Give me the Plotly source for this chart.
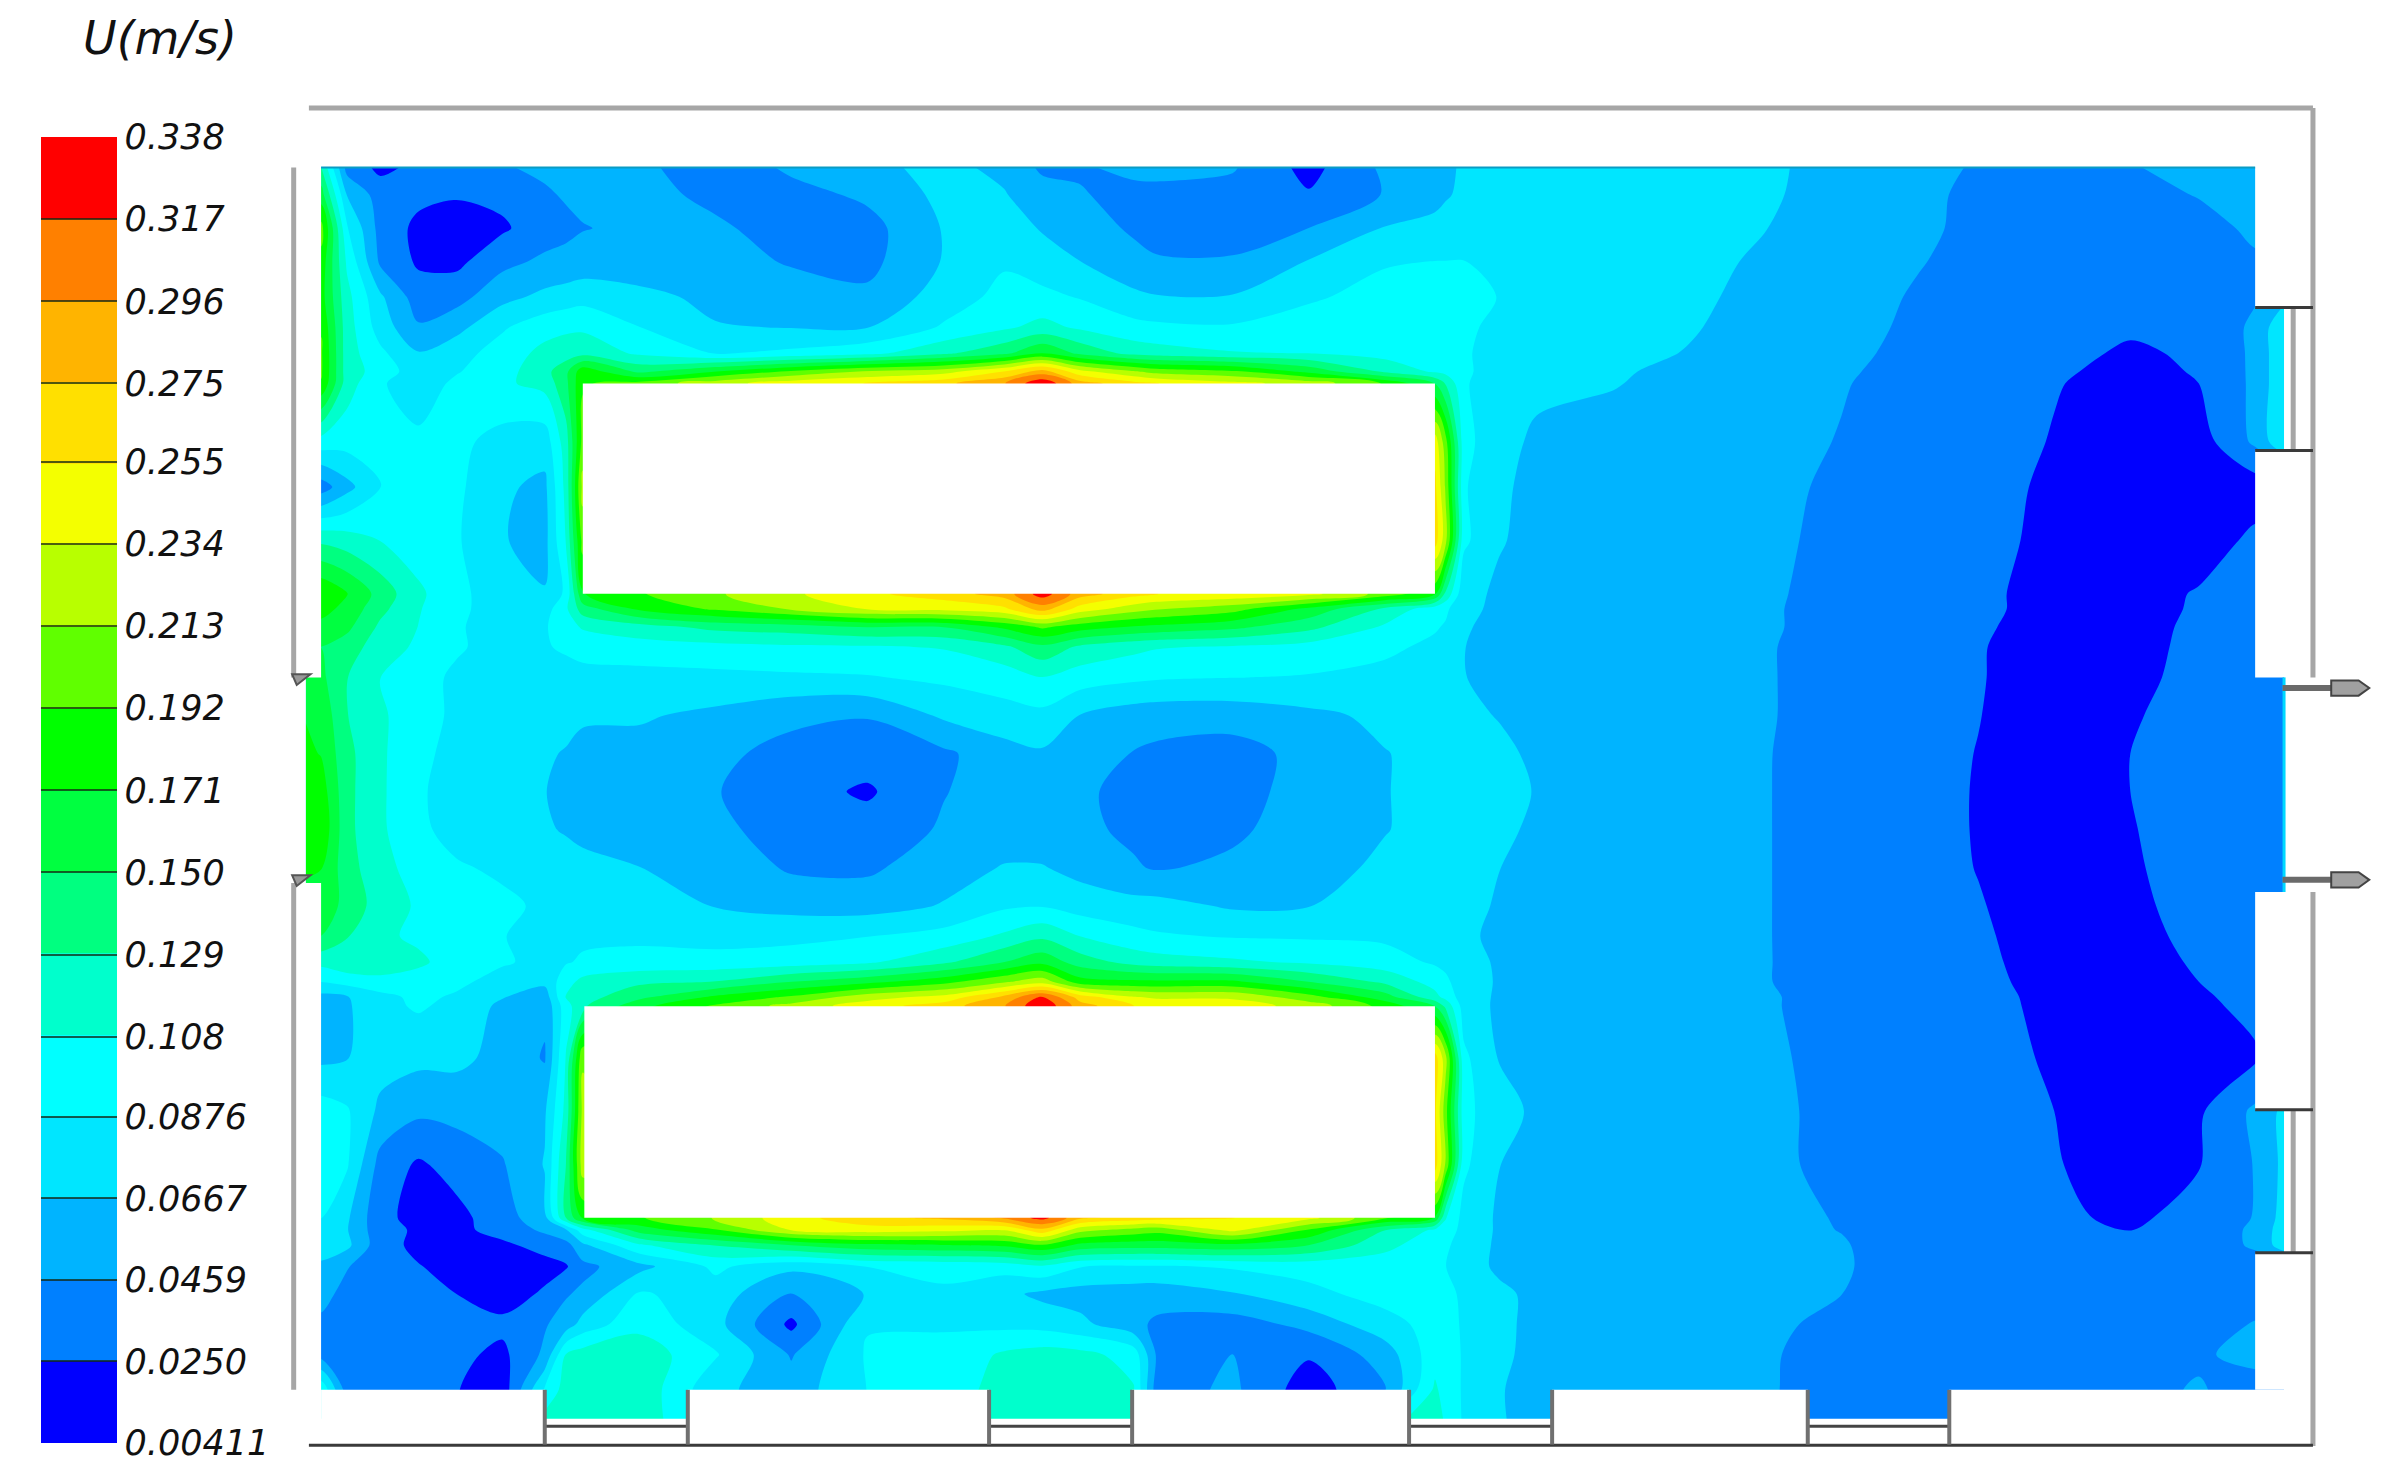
import numpy as np
import plotly.graph_objects as go

# --- colour bar ---
TICK_VALS = [0.00411, 0.0250, 0.0459, 0.0667, 0.0876, 0.108, 0.129, 0.150, 0.171,
             0.192, 0.213, 0.234, 0.255, 0.275, 0.296, 0.317, 0.338]
TICK_TEXT = ["0.00411", "0.0250", "0.0459", "0.0667", "0.0876", "0.108", "0.129", "0.150", "0.171",
             "0.192", "0.213", "0.234", "0.255", "0.275", "0.296", "0.317", "0.338"]
BAND_COLORS = ["#0000ff", "#0080ff", "#00b4ff", "#00e6ff", "#00ffff", "#00ffcc", "#00ff80", "#00ff40",
               "#00ff00", "#60ff00", "#b8ff00", "#f4ff00", "#ffe000", "#ffb400", "#ff8000", "#ff0000"]

# --- velocity field (mm/s), rows top to bottom ---
ROOM_X = [201, 211, 228, 250, 275, 300, 330, 358, 372, 383, 420, 470, 520, 570, 620, 660, 685, 710, 745, 760,
          810, 860, 910, 943, 950, 962, 985, 1010, 1060, 1110, 1160, 1210, 1260, 1300, 1350, 1400, 1445, 1482, 1501]
ROOM_Y = [110, 128, 150, 172, 195, 215, 232, 244, 252, 290, 320, 355, 390, 400, 412, 425, 445, 470, 495, 520, 545,
          570, 595, 615, 632, 645, 655, 661, 695, 730, 765, 800, 808, 818, 832, 850, 870, 890, 913, 935]
H = [200] * 13  # hidden behind the white blocks
U_MM_S = [
    [130,130,38,20,30,38,44,50,52,53,52,30,50,62,72,62,42,44,50,52,48,18,50,56,62,70,74,75,74,72,69,62,52,44,42,45,50,52,52],
    [160,160,66,36,30,27,30,43,48,50,54,40,38,50,72,68,55,47,41,40,38,27,47,60,65,70,76,78,76,73,69,60,50,42,38,38,47,54,54],
    [200,200,90,38,20,14,22,36,41,45,50,50,35,38,68,77,65,52,44,42,37,46,68,73,74,76,80,81,78,73,67,60,49,42,36,34,38,50,50],
    [185,185,105,42,22,20,40,50,52,54,55,54,44,40,68,85,76,67,50,47,48,68,86,88,88,88,84,82,77,72,64,56,47,40,34,32,35,43,43],
    [180,180,115,70,35,38,60,72,76,80,72,62,56,50,76,94,93,86,72,68,68,85,94,96,96,95,87,82,76,70,62,54,44,38,32,28,31,44,60],
    [190,190,118,78,48,60,85,100,105,105,88,68,66,66,90,105,115,105,94,92,90,96,98,96,95,92,82,78,74,68,61,53,42,37,31,27,29,50,85],
    [195,195,118,92,68,80,96,115,118,122,105,86,92,102,125,145,170,145,122,118,110,108,100,98,96,90,80,74,71,66,59,50,41,36,29,23,27,50,85],
    [195,195,118,100,75,86,100,122,145,185,145,170,195,215,225,255,285,240,215,205,195,165,125,105,102,92,76,72,68.5,63,57,48,40,35,27,21,26,50,85],
    [190,190,118,90,76,92,105,115,145,190,200,225,245,255,270,295,335,285,262,255,240,225,190,150,128,90,75,70,67.5,62,56,47,39,34,26,19,25,50,85],
    [100,100,96,92,92,93,80,76,120,200] + H + [245,200,95,72,64,61,57,52,45,38,33,24,15,15,50,85],
    [35,35,60,87,94,92,70,62,115,220] + H + [260,210,90,69,63,59,55,50,43,36,31,22,14,12,14,14],
    [125,125,118,108,98,90,68,60,110,200] + H + [265,220,92,68,62,58,54,49,42,35,30,21,14,13,30,30],
    [190,190,172,142,112,95,72,68,92,170,190,210,230,250,265,285,328,285,262,255,250,240,205,175,125,72,64,61,57,53,48,41,34,28,20,15,27,33,33],
    [178,178,165,135,110,93,76,78,105,140,175,195,215,235,240,250,285,245,222,215,200,165,125,96,92,70,64,60.5,56.5,52.5,47.5,41,34,28,20,15,28,33,33],
    [165,165,155,125,108,90,78,85,102,110,120,135,140,150,150,175,195,180,168,165,155,135,105,90,85,68,63,60,56,52,47.5,41,33,27,19,16,30,33,33],
    [150,150,140,118,105,90,80,85,92,98,100,102,105,106,110,125,145,125,114,110,106,100,93,82,80,67,62,60,56,52,47,40,33,26,18,17,31,33,33],
    [170,155,130,108,95,84,75,74,76,78,80,82,84,86,92,97,108,98,92,90,88,86,80,74,73,67,64,60,56,52,47,40,33,26,17,19,32,34,36],
    [170,165,130,112,95,84,75,70,70,68,69,62,50,47,70,80,82,66,56,54,54,62,71,70,70,70,66,62,56,52,47,40,32,25.5,15,23,33,35,38],
    [175,170,135,112,92,82,74,68,66,64,60,50,40,35,42,58,64,56,45,42,38,52,66,72,72,73,70,64,58,53,46.5,40,31,24.5,14,25,33,35,38],
    [180,182,135,112,90,80,72,67,64,60,52,47,33,22,45,54,50,48,42,38,36,56,66,72,73,76,71,66,58,53,46.5,39.5,31,24,14,25,33,35,38],
    [190,188,135,112,92,80,74,69,65,61,54,50,38,34,48,56,54,50,42,38,42,56,66,72,73,76,70,64,58,53,46.5,39.5,31,24,14,24,33,35,38],
    [175,172,138,115,100,90,84,78,75,73,67,60,43,42,58,68,68,60,48,44,50,60,70,75,76,76,67,62,56,52,46.5,39.5,31,24.5,15,23,32,35,38],
    [160,160,145,118,106,96,92,84,82,80,74,66,60,58,68,84,86,78,74,74,64,66,78,80,80,72,65,61,56,52,46.5,39.5,31,26,17,22,30,36,40],
    [150,150,130,112,105,98,88,84,84,84,83,80,82,87,95,112,125,108,94,90,86,85,84,78,76,70,63,60,56,52,46.5,39.5,31,27,18.5,20,29,34,36],
    [115,115,125,125,112,100,90,82,86,90,95,95,98,105,125,150,165,140,122,118,112,105,96,85,82,72,65,60,56,52,46.5,40,32,27.5,20,18,27,34,36],
    [88,88,95,100,100,92,80,72,100,115,125,130,150,165,185,210,225,180,176,175,175,150,125,100,92,75,65,60,56,52,46.5,40,32,28,21,16,25,33,35],
    [60,60,65,82,92,85,68,55,110,120,145,175,195,225,240,280,320,265,235,230,230,200,160,115,102,76,64,60,56,52,47.5,40,32,28.5,22,16,22,32,35],
    [58,60,64,82,90,82,62,50,100,125,165,195,220,245,265,295,335,285,255,250,245,225,185,150,125,78,63,60,56,52,47.5,40,32,29,22,15,20,31,35],
    [62,62,66,75,72,72,60,44,110,210] + H + [265,220,92,66,63,59,55,48.5,41,35,31,23,15,14,22,40],
    [98,98,90,62,50,52,56,64,115,220] + H + [260,200,95,72,64,59,54,49,42,36,31,25,15,22,50,72],
    [96,96,90,38,22,33,44,68,130,225] + H + [265,210,92,67,63,59,54,50,41,33,29,26,18,24,47,72],
    [88,88,70,30,19,19,36,60,130,175,190,215,245,270,280,300,325,280,268,265,255,240,195,170,110,80,64,61,57,53.5,50,45,37,32,28,22,31,47,75],
    [82,82,68,32,22,20,32,50,65,100,160,190,235,245,240,235,270,220,205,200,240,190,130,105,100,80,64,60,56,53,50,45.5,37,33,30,24.5,31,50,78],
    [85,85,72,33,20,17,21,32,38,62,105,130,150,165,170,175,190,165,160,160,165,150,115,95,92,76,64,60,56,53,50,47,38,34,31,29,33,49,78],
    [60,60,47,34,26,18,16,18,23,40,60,92,72,88,92,95,105,88,85,85,90,95,96,90,88,74,64,59,56,53,50.5,47.5,38,34,32,32,34,36,36],
    [52,52,40,32,30,25,15,28,44,50,90,78,44,68,85,72,62,58,56,55,65,82,95,98,96,82,70,63,56,53,50,46,37,34,33,33,35,38,38],
    [42,42,35,32,32,30,30,44,55,75,102,74,20,86,86,82,80,72,52,42,36,52,80,95,98,84,70,63,56,52,49,42,37,35,34,35,38,47,47],
    [38,38,34,30,28,30,20,50,110,118,122,90,44,90,92,112,118,115,100,44,46,27,55,100,100,85,70,62,55,51,47.5,40,38,36,36,38,44,50,50],
    [105,105,36,32,30,26,12,90,118,122,124,72,55,88,90,122,125,125,110,36,50,14,44,112,100,85,70,50,54,50,47,41,42,42,38,42,47,40,40],
    [105,105,36,32,30,26,12,118,122,124,126,72,55,88,100,125,124,124,115,40,50,14,100,125,105,85,70,55,54,50,47,38,38,38,38,42,47,40,40],
]

# --- room outline, same units as ROOM_X / ROOM_Y ---
BLOCKS = [(383, 252, 943, 390), (384, 661, 943, 800)]
OUTSIDE = [(200, 109, 211, 445), (200, 580, 211, 937), (200, 932, 1502, 937), (211, 913, 358, 935),
           (452, 913, 650, 935), (744, 913, 926, 935), (1020, 913, 1188, 935), (1281, 913, 1502, 935),
           (1482, 109, 1502, 202), (1482, 296, 1502, 445), (1482, 586, 1502, 729), (1482, 823, 1502, 913)]
GREY_WALLS = [(203, 71, 1520, 71), (193, 110, 193, 445), (193, 580, 193, 913),
              (1520, 71, 1520, 445), (1520, 586, 1520, 950), (1507, 202, 1507, 296), (1507, 729, 1507, 823)]
DARK_WALLS = [(203, 949.5, 1520, 949.5), (1482, 202, 1520, 202), (1482, 296, 1520, 296),
              (1482, 729, 1520, 729), (1482, 823, 1520, 823)]
BOTTOM_WINDOWS = [(358, 452), (650, 744), (926, 1020), (1188, 1281)]
DOOR_ARMS = [452, 578]
NUBS = [446, 578]

z = np.array(U_MM_S, dtype=float) / 1000.0
colorscale = [[i / (len(BAND_COLORS) - 1), c] for i, c in enumerate(BAND_COLORS)]

fig = go.Figure(go.Contour(
    x=ROOM_X, y=ROOM_Y, z=z,
    zmin=TICK_VALS[0], zmax=TICK_VALS[-1],
    autocontour=False,
    contours=dict(coloring="fill", showlines=False, start=0.025, end=0.3175, size=0.02086),
    line=dict(width=0, smoothing=0.9),
    colorscale=colorscale,
    hoverinfo="skip",
    colorbar=dict(
        x=41 / 2386, xanchor="left", xpad=0,
        y=1 - 948 / 967, yanchor="bottom", ypad=0,
        len=858 / 967, lenmode="fraction",
        thickness=76, thicknessmode="pixels",
        outlinewidth=0,
        tickmode="array", tickvals=TICK_VALS, ticktext=TICK_TEXT,
        ticks="inside", ticklen=76, tickwidth=2, tickcolor="rgba(20,40,20,0.75)",
        tickfont=dict(family="DejaVu Sans", size=35, color="#111111", style="italic"),
    ),
))

shapes = []
for x0, y0, x1, y1 in OUTSIDE + BLOCKS:
    shapes.append(dict(type="rect", x0=x0, y0=y0, x1=x1, y1=y1, fillcolor="white", line_width=0))
shapes.append(dict(type="line", x0=211, y0=110, x1=1482, y1=110, line=dict(color="#0a9cc4", width=2)))
shapes.append(dict(type="line", x0=1501, y0=445, x1=1501, y1=586, line=dict(color="#00d8ff", width=3)))
for x0, y0, x1, y1 in GREY_WALLS:
    shapes.append(dict(type="line", x0=x0, y0=y0, x1=x1, y1=y1, line=dict(color="#a6a6a6", width=5)))
for x0, y0, x1, y1 in DARK_WALLS:
    shapes.append(dict(type="line", x0=x0, y0=y0, x1=x1, y1=y1, line=dict(color="#3a3a3a", width=3)))
for left, right in BOTTOM_WINDOWS:
    shapes.append(dict(type="line", x0=left, y0=937, x1=right, y1=937, line=dict(color="#444444", width=3)))
    for xw in (left, right):
        shapes.append(dict(type="line", x0=xw, y0=913, x1=xw, y1=949, line=dict(color="#707070", width=4)))
for ya in DOOR_ARMS:
    shapes.append(dict(type="line", x0=1500, y0=ya, x1=1535, y1=ya, line=dict(color="#6a6a6a", width=6)))
    shapes.append(dict(type="path", path=f"M1532,{ya-5} L1550,{ya-5} L1557,{ya} L1550,{ya+5} L1532,{ya+5} Z",
                       fillcolor="#a0a0a0", line=dict(color="#444444", width=2)))
for yn in NUBS:
    shapes.append(dict(type="path", path=f"M192,{yn-3} L204,{yn-3} L195,{yn+4} Z",
                       fillcolor="#999999", line=dict(color="#555555", width=2)))

fig.update_layout(
    width=2386, height=1472,
    margin=dict(l=0, r=0, t=0, b=0, autoexpand=False),
    paper_bgcolor="white", plot_bgcolor="white",
    xaxis=dict(range=[0, 1568], visible=False, fixedrange=True),
    yaxis=dict(range=[967, 0], visible=False, fixedrange=True),
    shapes=shapes,
    annotations=[dict(
        x=105, y=25, text="U(m/s)", showarrow=False, xanchor="center", yanchor="middle",
        font=dict(family="DejaVu Sans", size=46, color="#111111", style="italic"),
    )],
)

fig.write_html("out.html", config={"displayModeBar": False}, post_script="document.body.style.margin='0';")
